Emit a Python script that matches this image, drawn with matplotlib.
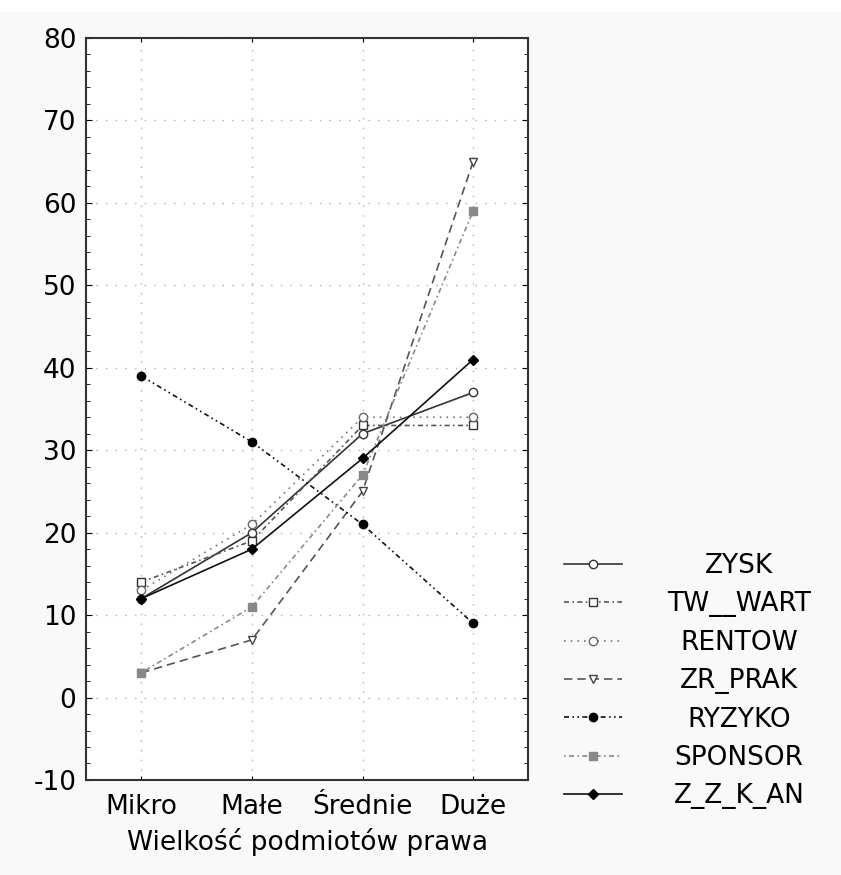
import matplotlib
matplotlib.use("Agg")
import matplotlib.pyplot as plt
import numpy as np
from matplotlib.ticker import MultipleLocator

plt.rcParams['font.family'] = ['DejaVu Sans']
plt.rcParams['axes.unicode_minus'] = False

categories = ["Mikro", "Małe", "Średnie", "Duże"]
zysk = [12, 20, 32, 37]
tw_wart = [14, 19, 33, 33]
rentow = [13, 21, 34, 34]
zr_prak = [3, 7, 25, 65]
ryzyko = [39, 31, 21, 9]
sponsor = [3, 11, 27, 59]
zzkan = [12, 18, 29, 41]

series = [
    ("ZYSK", zysk, dict(color="#333333", ls="-", marker="o", mfc="white", mec="#333333", ms=6)),
    ("TW__WART", tw_wart, dict(color="#555555", ls=(0, (3, 2, 1, 2)), marker="s", mfc="white", mec="#333333", ms=6)),
    ("RENTOW", rentow, dict(color="#777777", ls=(0, (1, 3)), marker="o", mfc="white", mec="#666666", ms=6)),
    ("ZR_PRAK", zr_prak, dict(color="#555555", ls=(0, (5, 3)), marker="v", mfc="white", mec="#444444", ms=6)),
    ("RYZYKO", ryzyko, dict(color="#111111", ls=(0, (3, 2, 1, 2, 1, 2)), marker="o", mfc="black", mec="black", ms=6)),
    ("SPONSOR", sponsor, dict(color="#888888", ls=(0, (1, 2, 3, 2)), marker="s", mfc="#888888", mec="#888888", ms=6)),
    ("Z_Z_K_AN", zzkan, dict(color="#111111", ls="-", marker="D", mfc="black", mec="black", ms=5)),
]

fig = plt.figure(figsize=(8.41, 8.75), dpi=100, facecolor="#f9f9f9")
# white strip at the very top like the scanned original
fig.patches.append(plt.Rectangle((0, 0.988), 1, 0.012, transform=fig.transFigure,
                                 color="white", zorder=-1))
ax = fig.add_axes([0.1023, 0.1086, 0.526, 0.848])

x = np.arange(len(categories))
for name, vals, st in series:
    ax.plot(x, vals, lw=1.2, label=name, **st)

ax.set_xlim(-0.5, 3.5)
ax.set_ylim(-10, 80)
ax.set_xticks(x)
ax.set_xticklabels(categories)
ax.yaxis.set_major_locator(MultipleLocator(10))
ax.yaxis.set_minor_locator(MultipleLocator(2))
ax.tick_params(axis="both", which="both", direction="in", labelsize=19)
ax.tick_params(axis="y", which="both", left=True, right=True, pad=7)
ax.tick_params(axis="x", top=True, bottom=True, length=3, pad=10)
ax.tick_params(axis="y", which="major", length=4)
ax.tick_params(axis="y", which="minor", length=3)
ax.grid(True, color="#b0b0b0", ls=(0, (1, 6)), lw=1)
for sp in ax.spines.values():
    sp.set_linewidth(1.5)
    sp.set_color("#333333")
ax.set_xlabel("Wielkość podmiotów prawa", fontsize=19, labelpad=6)

leg = fig.legend(loc="upper left", bbox_to_anchor=(0.671, 0.368), frameon=False,
                 fontsize=19, handlelength=2.2, handletextpad=1.7, labelspacing=0.47,
                 borderaxespad=0, borderpad=0)

fig.canvas.draw()
r = fig.canvas.get_renderer()
widths = [t.get_window_extent(r).width for t in leg.get_texts()]
wmax = max(widths)
for t, w in zip(leg.get_texts(), widths):
    t.set_x((wmax - w) / 2)

fig.savefig("out.png", dpi=100, facecolor=fig.get_facecolor())
